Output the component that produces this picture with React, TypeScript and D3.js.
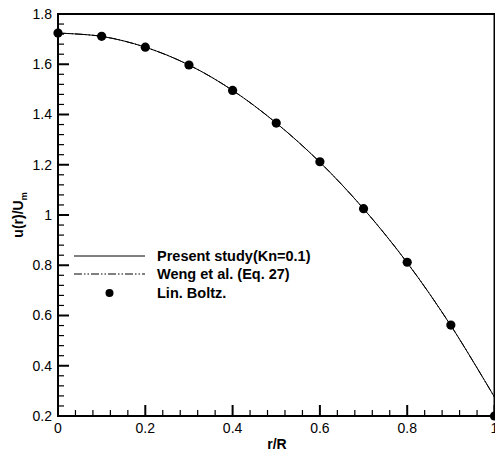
import React from "react";
import * as d3 from "d3";

const rGrid = [0, 0.1, 0.2, 0.3, 0.4, 0.5, 0.6, 0.7, 0.8, 0.9, 1.0];
const presentStudy = [1.724, 1.711, 1.668, 1.597, 1.496, 1.366, 1.21, 1.025, 0.81, 0.56, 0.275];
const wengEq27 = [1.724, 1.711, 1.668, 1.597, 1.496, 1.366, 1.21, 1.025, 0.81, 0.56, 0.275];
const linBoltzR = [0, 0.1, 0.2, 0.3, 0.4, 0.5, 0.6, 0.7, 0.8, 0.9, 1.0];
const linBoltz = [1.724, 1.711, 1.668, 1.597, 1.496, 1.366, 1.212, 1.025, 0.812, 0.562, 0.2];
const xTicks = [0, 0.2, 0.4, 0.6, 0.8, 1];
const yTicks = [0.2, 0.4, 0.6, 0.8, 1, 1.2, 1.4, 1.6, 1.8];
const legendLabels = ["Present study(Kn=0.1)", "Weng et al. (Eq. 27)", "Lin. Boltz."];

const W = 495, H = 453;
const L = 58, T = 14, R = 494.5, B = 416;
const FONT = "'Liberation Sans', Arial, sans-serif";

export default function App() {
  const x = d3.scaleLinear().domain([0, 1]).range([L, R]);
  const y = d3.scaleLinear().domain([0.2, 1.8]).range([B, T]);
  const line = d3.line<number>().x((_, i) => x(rGrid[i])).y((d) => y(d)).curve(d3.curveCatmullRom);
  const xMinor = d3.range(0, 1.0001, 0.04).filter((v) => Math.abs(v * 5 - Math.round(v * 5)) > 1e-6);
  const yMinor = d3.range(0.2, 1.8001, 0.04).filter((v) => Math.abs(v * 5 - Math.round(v * 5)) > 1e-6);
  const lx0 = 74, lx1 = 145, ltx = 157;
  const ly = [256, 274, 293];
  return (
    <svg width={W} height={H} style={{ position: "absolute", left: 0, top: 0, background: "#fff" }}>
      <rect x={0} y={0} width={W} height={H} fill="#fff" />
      <defs>
        <clipPath id="clip"><rect x={L} y={T} width={R - L} height={B - T} /></clipPath>
      </defs>
      <g clipPath="url(#clip)">
        <path d={line(wengEq27) || ""} fill="none" stroke="#000" strokeWidth={1} strokeDasharray="8,2,1.5,2,1.5,2" />
        <path d={line(presentStudy) || ""} fill="none" stroke="#000" strokeWidth={1} />
      </g>
      {linBoltz.map((v, i) => (
        <circle key={i} cx={x(linBoltzR[i])} cy={y(v)} r={4.6} fill="#000" />
      ))}
      {/* frame */}
      <rect x={L} y={T} width={R - L} height={B - T} fill="none" stroke="#000" strokeWidth={2} />
      {/* y ticks */}
      {yTicks.map((v) => (
        <g key={"y" + v}>
          <line x1={L} x2={L + 11} y1={y(v)} y2={y(v)} stroke="#000" strokeWidth={2} />
          <text x={52} y={y(v)} dy="0.35em" textAnchor="end" fontFamily={FONT} fontSize={14}>{String(v)}</text>
        </g>
      ))}
      {yMinor.map((v) => (
        <line key={"ym" + v} x1={L} x2={L + 6} y1={y(v)} y2={y(v)} stroke="#000" strokeWidth={1.2} />
      ))}
      {/* x ticks */}
      {xTicks.map((v) => (
        <g key={"x" + v}>
          <line x1={x(v)} x2={x(v)} y1={B} y2={B - 11} stroke="#000" strokeWidth={2} />
          <text x={x(v)} y={433} textAnchor="middle" fontFamily={FONT} fontSize={14}>{String(v)}</text>
        </g>
      ))}
      {xMinor.map((v) => (
        <line key={"xm" + v} x1={x(v)} x2={x(v)} y1={B} y2={B - 6} stroke="#000" strokeWidth={1.2} />
      ))}
      {/* axis titles */}
      <text x={277} y={449} textAnchor="middle" fontFamily={FONT} fontSize={14} fontWeight="bold">r/R</text>
      <text transform={`translate(23,${(T + B) / 2}) rotate(-90)`} textAnchor="middle" fontFamily={FONT} fontSize={14} fontWeight="bold">
        u(r)/U<tspan fontSize={9} dy={4}>m</tspan>
      </text>
      {/* legend */}
      <line x1={lx0} x2={lx1} y1={ly[0]} y2={ly[0]} stroke="#000" strokeWidth={1} />
      <line x1={lx0} x2={lx1} y1={ly[1]} y2={ly[1]} stroke="#000" strokeWidth={1} strokeDasharray="8,2,1.5,2,1.5,2" />
      <circle cx={(lx0 + lx1) / 2} cy={ly[2]} r={4} fill="#000" />
      {legendLabels.map((t, i) => (
        <text key={t} x={ltx} y={ly[i]} dy="0.35em" fontFamily={FONT} fontSize={14.5} fontWeight="bold">{t}</text>
      ))}
    </svg>
  );
}
